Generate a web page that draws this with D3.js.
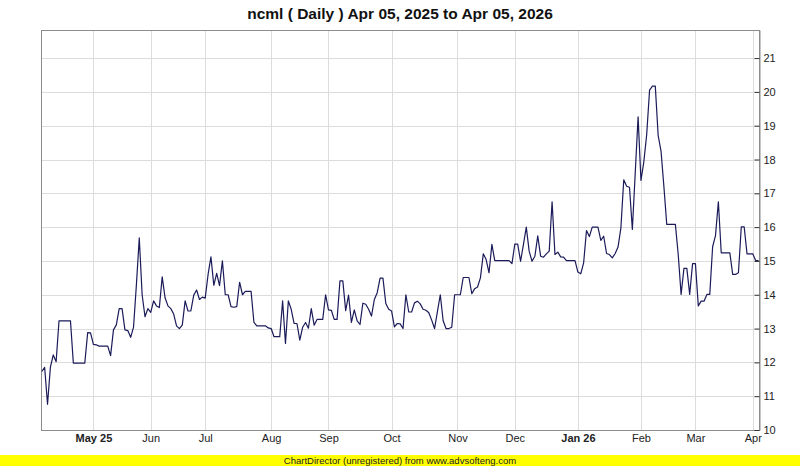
<!DOCTYPE html>
<html>
<head>
<meta charset="utf-8">
<script src="https://cdn.jsdelivr.net/npm/d3@7"></script>
<style>
  html, body { margin: 0; padding: 0; background: #ffffff; }
  svg { display: block; }
</style>
</head>
<body>
<svg id="chart" width="800" height="466"></svg>
<script>
// ---- data ----
const titleText = "ncml ( Daily ) Apr 05, 2025 to Apr 05, 2026";
const footerText = "ChartDirector (unregistered) from www.advsofteng.com";

// closing values, one per trading session (index 0 = first session)
const closes = [
  11.73, 11.85, 10.76, 11.86, 12.22, 12.02, 13.23, 13.23, 13.23, 13.23,
  13.23, 11.98, 11.98, 11.98, 11.98, 11.98, 12.88, 12.87, 12.53, 12.52,
  12.48, 12.48, 12.48, 12.48, 12.20, 12.96, 13.11, 13.59, 13.59, 12.96,
  12.94, 12.74, 13.04, 14.30, 15.68, 14.00, 13.35, 13.59, 13.48, 13.82,
  13.67, 13.62, 14.53, 13.91, 13.67, 13.59, 13.43, 13.08, 13.00, 13.10,
  13.82, 13.52, 13.52, 13.99, 14.14, 13.86, 13.93, 13.90, 14.60, 15.12,
  14.28, 14.63, 14.27, 15.00, 14.00, 14.00, 13.65, 13.63, 13.65, 14.37,
  14.00, 14.10, 14.10, 14.10, 13.18, 13.08, 13.08, 13.08, 13.08, 13.02,
  13.00, 12.76, 12.76, 12.76, 13.82, 12.56, 13.82, 13.57, 13.15, 13.15,
  12.66, 13.04, 13.18, 13.01, 13.59, 13.10, 13.27, 13.27, 13.27, 14.00,
  13.55, 13.54, 13.27, 13.27, 14.41, 14.41, 13.53, 13.99, 13.18, 13.55,
  13.23, 13.12, 13.75, 13.72, 13.57, 13.37, 13.86, 14.06, 14.49, 14.49,
  13.74, 13.57, 13.52, 13.05, 13.15, 13.14, 13.00, 14.00, 13.49, 13.49,
  13.76, 13.81, 13.73, 13.57, 13.54, 13.47, 13.25, 13.00, 13.50, 14.00,
  13.23, 13.00, 13.00, 13.04, 14.00, 14.00, 14.00, 14.51, 14.51, 14.51,
  14.03, 14.18, 14.23, 14.50, 15.21, 15.04, 14.65, 15.49, 15.01, 15.01,
  15.01, 15.01, 15.01, 15.01, 14.92, 15.50, 15.50, 14.99, 15.48, 16.00,
  15.29, 14.99, 15.14, 15.74, 15.14, 15.11, 15.21, 15.29, 16.75, 15.19,
  15.26, 15.12, 15.11, 15.01, 15.01, 15.01, 15.01, 14.67, 14.62, 14.94,
  15.90, 15.72, 16.00, 16.00, 16.00, 15.61, 15.73, 15.22, 15.19, 15.09,
  15.22, 15.41, 15.98, 17.40, 17.21, 17.18, 15.93, 17.60, 19.26, 17.38,
  17.93, 18.74, 20.05, 20.17, 20.17, 18.71, 18.25, 17.20, 16.08, 16.08,
  16.08, 16.08, 15.19, 14.01, 14.78, 14.78, 14.01, 14.92, 14.92, 13.67,
  13.81, 13.81, 14.01, 14.01, 15.42, 15.75, 16.75, 15.24, 15.24, 15.24,
  15.24, 14.60, 14.60, 14.65, 16.01, 16.01, 15.21, 15.21, 15.21, 15.01,
  15.01
];

// first session of each month (session index) and its label
const monthIndex = [18, 38, 57, 80, 100, 122, 145, 165, 187, 209, 228, 248];
const monthLabels = ["May 25", "Jun", "Jul", "Aug", "Sep", "Oct", "Nov", "Dec", "Jan 26", "Feb", "Mar", "Apr"];
const yearLabels = ["May 25", "Jan 26"];

const yTicks = [10, 11, 12, 13, 14, 15, 16, 17, 18, 19, 20, 21];
const yMin = 10, yMax = 21.83;

// ---- layout ----
const plot = { left: 41, right: 760, top: 30, bottom: 430 };
const font = "'Liberation Sans', Arial, sans-serif";

const svg = d3.select("#chart");

const x = d3.scaleLinear().domain([0, closes.length - 1]).range([41.8, 758.5]);
const y = d3.scaleLinear().domain([yMin, yMax]).range([plot.bottom, plot.top]);

// plot background
svg.append("rect")
  .attr("x", plot.left).attr("y", plot.top)
  .attr("width", plot.right - plot.left).attr("height", plot.bottom - plot.top)
  .attr("fill", "#ffffff");

// horizontal grid
const gy = svg.append("g")
  .attr("transform", `translate(${plot.left},0)`)
  .call(d3.axisLeft(y).tickValues(yTicks).tickSize(-(plot.right - plot.left)).tickFormat(""));
gy.select(".domain").remove();
gy.selectAll(".tick line").attr("stroke", "#dcdcdc").attr("shape-rendering", "crispEdges");

// vertical grid
const gx = svg.append("g")
  .attr("transform", `translate(0,${plot.bottom})`)
  .call(d3.axisBottom(x).tickValues(monthIndex).tickSize(-(plot.bottom - plot.top)).tickFormat(""));
gx.select(".domain").remove();
gx.selectAll(".tick line").attr("stroke", "#dcdcdc").attr("shape-rendering", "crispEdges");

// frame
svg.append("rect")
  .attr("x", plot.left + 0.5).attr("y", plot.top + 0.5)
  .attr("width", plot.right - plot.left - 1).attr("height", plot.bottom - plot.top)
  .attr("fill", "none").attr("stroke", "#8c8c8c").attr("stroke-width", 1);

// price line
const line = d3.line()
  .x((d, i) => x(i))
  .y(d => y(d));
svg.append("path")
  .datum(closes)
  .attr("d", line)
  .attr("fill", "none")
  .attr("stroke", "#1b1b5a")
  .attr("stroke-width", 1.2)
  .attr("stroke-linejoin", "round");

// right y axis
const ya = svg.append("g")
  .attr("transform", `translate(${plot.right - 0.5},0)`)
  .call(d3.axisRight(y).tickValues(yTicks).tickSize(-5).tickPadding(4).tickFormat(d3.format("d")));
ya.select(".domain").attr("stroke", "#8c8c8c");
ya.selectAll(".tick line").attr("stroke", "#333333");
ya.selectAll("text")
  .attr("font-family", font).attr("font-size", 11).attr("fill", "#222222");

// bottom x axis labels
const xa = svg.append("g")
  .attr("transform", `translate(0,${plot.bottom})`)
  .call(d3.axisBottom(x).tickValues(monthIndex).tickSize(0).tickPadding(4)
    .tickFormat((d, i) => monthLabels[i]));
xa.select(".domain").remove();
xa.selectAll("text")
  .attr("font-family", font).attr("font-size", 11).attr("fill", "#222222")
  .attr("font-weight", (d, i) => yearLabels.includes(monthLabels[i]) ? "bold" : "normal");

// title
svg.append("text")
  .attr("x", 400).attr("y", 19)
  .attr("text-anchor", "middle")
  .attr("font-family", font).attr("font-weight", "bold").attr("font-size", 15.5)
  .attr("fill", "#111111")
  .text(titleText);

// footer band
svg.append("rect")
  .attr("x", 0).attr("y", 455).attr("width", 800).attr("height", 11)
  .attr("fill", "#ffff00");
svg.append("text")
  .attr("x", 400).attr("y", 464)
  .attr("text-anchor", "middle")
  .attr("font-family", font).attr("font-size", 9.5)
  .attr("fill", "#222222")
  .text(footerText);
</script>
</body>
</html>
